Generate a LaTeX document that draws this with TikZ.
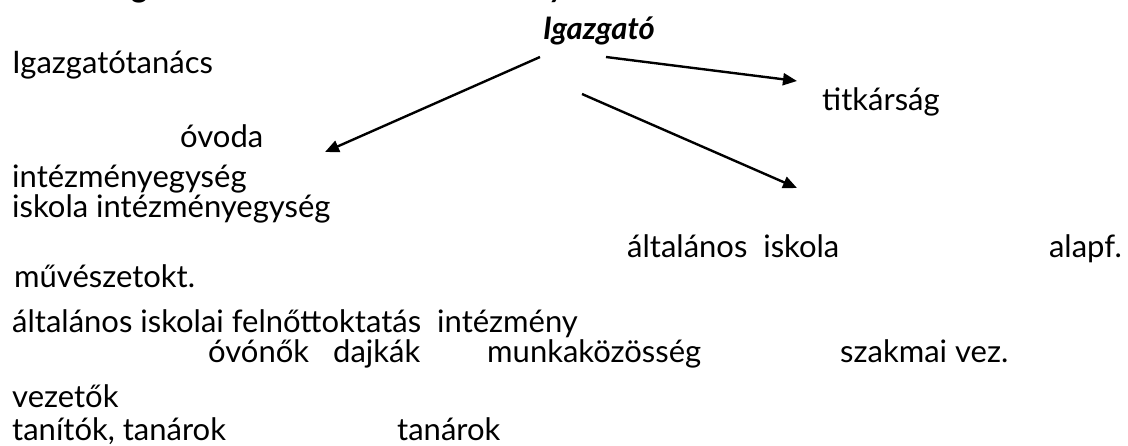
\documentclass[tikz,border=0pt]{standalone}
\usepackage{fontspec}
\setmainfont{Lato}
\usetikzlibrary{arrows.meta}

\begin{document}
\begin{tikzpicture}[x=1pt, y=-1pt, >={Triangle[length=14pt,width=12pt]},
  lbl/.style={anchor=base west, inner sep=0pt, font=\fontsize{31}{34}\selectfont},
  boss/.style={lbl, font=\fontsize{31}{34}\selectfont\bfseries\itshape},
  link/.style={->, line width=2.4pt}]
  \useasboundingbox (0,0) rectangle (1128,445);

  % cut-off line above the picture
  \begin{scope}
    \clip (0,0) rectangle (1128,445);
    \node[boss, font=\fontsize{31}{34}\selectfont\bfseries] (topg) at (131,-3) {g};
    \node[boss] (topy) at (550,-3) {y};
  \end{scope}

  % head
  \node[boss] (igazgato) at (543,39) {Igazgató};
  \node[lbl] (tanacs) at (12,73) {Igazgatótanács};
  \node[lbl] (titkar) at (822,110) {titkárság};

  % left block
  \node[lbl] (ovoda) at (180,147) {óvoda};
  \node[lbl] (ovegys) at (12,187) {intézményegység};
  \node[lbl] (iskegys) at (12,217) {iskola intézményegység};

  % school row
  \node[lbl] (altisk) at (627,257) {általános\ \ iskola};
  \node[lbl, anchor=base east] (alapf) at (1122,257) {alapf.};
  \node[lbl] (muv) at (14,287) {művészetokt.};
  \node[lbl] (felnott) at (12,332) {általános iskolai felnőttoktatás};
  \node[lbl] (intezm) at (437,332) {intézmény};

  % staff rows
  \node[lbl] (ovonok) at (208,362) {óvónők};
  \node[lbl] (dajkak) at (333,362) {dajkák};
  \node[lbl] (mkozos) at (487,362) {munkaközösség};
  \node[lbl] (szakm) at (840,362) {szakmai vez.};
  \node[lbl] (vezetok) at (12,407) {vezetők};
  \node[lbl] (tanitok) at (12,440) {tanítók, tanárok};
  \node[lbl] (tanarok) at (397,440) {tanárok};

  % arrows from the head
  \coordinate (ig-l) at (540,57);
  \coordinate (ig-r) at (606,57);
  \coordinate (ig-d) at (582,94);
  \coordinate (to-ov) at (325,152);
  \coordinate (to-tk) at (797,81);
  \coordinate (to-ai) at (797,188);
  \draw[link] (ig-l) -- (to-ov);
  \draw[link] (ig-r) -- (to-tk);
  \draw[link] (ig-d) -- (to-ai);
\end{tikzpicture}
\end{document}
